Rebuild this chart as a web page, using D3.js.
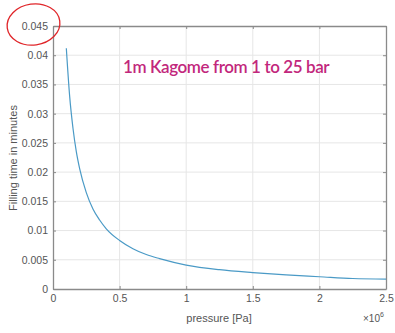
<!DOCTYPE html>
<html><head><meta charset="utf-8">
<script src="https://cdn.jsdelivr.net/npm/d3@7"></script>
<style>body{margin:0;background:#fff;}svg{display:block;}</style>
</head><body>
<script>
// Data
const pressure = [1.0e5, 1.25e5, 1.5e5, 1.75e5, 2.0e5, 2.5e5, 3.0e5, 3.5e5, 4.0e5, 5.0e5, 6.0e5, 7.0e5, 8.0e5, 1.0e6, 1.25e6, 1.5e6, 1.75e6, 2.0e6, 2.25e6, 2.5e6];
const fillTime = [0.0412, 0.0330, 0.0275, 0.0235, 0.0206, 0.0165, 0.0137, 0.0118, 0.0103, 0.0083, 0.0069, 0.0059, 0.0052, 0.0041, 0.0033, 0.0028, 0.0024, 0.0021, 0.0018, 0.0017];
const xTicks = [0, 0.5e6, 1e6, 1.5e6, 2e6, 2.5e6];
const xTickLabels = ["0", "0.5", "1", "1.5", "2", "2.5"];
const yTicks = [0, 0.005, 0.01, 0.015, 0.02, 0.025, 0.03, 0.035, 0.04, 0.045];
const yTickLabels = ["0", "0.005", "0.01", "0.015", "0.02", "0.025", "0.03", "0.035", "0.04", "0.045"];
const titleText = "1m Kagome from 1 to 25 bar";
const xLabel = "pressure [Pa]";
const yLabel = "Filling time in minutes";

const W = 395, H = 333;
const L = 53, R = 386, T = 26, B = 289;
const svg = d3.select("body").append("svg").attr("width", W).attr("height", H);
const x = d3.scaleLinear().domain([0, 2.5e6]).range([L, R]);
const y = d3.scaleLinear().domain([0, 0.045]).range([B, T]);

const gridC = "#e6e6e6", axC = "#8a8a8a", txtC = "#555";
// grid
svg.append("g").selectAll("line").data(xTicks.slice(1, -1)).join("line")
  .attr("x1", d => x(d)).attr("x2", d => x(d)).attr("y1", T).attr("y2", B)
  .attr("stroke", gridC).attr("stroke-width", 1);
svg.append("g").selectAll("line").data(yTicks.slice(1, -1)).join("line")
  .attr("y1", d => y(d)).attr("y2", d => y(d)).attr("x1", L).attr("x2", R)
  .attr("stroke", gridC).attr("stroke-width", 1);

// axes
const font = "Liberation Sans, Arial, sans-serif";
const xAxis = d3.axisBottom(x).tickValues(xTicks).tickFormat((d, i) => xTickLabels[i]).tickSizeInner(-3).tickSizeOuter(0).tickPadding(6);
const yAxis = d3.axisLeft(y).tickValues(yTicks).tickFormat((d, i) => yTickLabels[i]).tickSizeInner(-3).tickSizeOuter(0).tickPadding(5);
const gx = svg.append("g").attr("transform", `translate(0,${B})`).call(xAxis);
const gy = svg.append("g").attr("transform", `translate(${L},0)`).call(yAxis);
const gxt = svg.append("g").attr("transform", `translate(0,${T})`).call(d3.axisTop(x).tickValues(xTicks).tickFormat("").tickSizeInner(-3).tickSizeOuter(0));
const gyr = svg.append("g").attr("transform", `translate(${R},0)`).call(d3.axisRight(y).tickValues(yTicks).tickFormat("").tickSizeInner(-3).tickSizeOuter(0));
[gx, gy, gxt, gyr].forEach(g => {
  g.select(".domain").attr("stroke", axC).attr("stroke-width", 1.3);
  g.selectAll(".tick line").attr("stroke", axC);
  g.selectAll("text").attr("fill", txtC).style("font-family", font).style("font-size", "10.5px");
});

// line
svg.append("path").datum(pressure.map((p, i) => [p, fillTime[i]]))
  .attr("fill", "none").attr("stroke", "#4a9ac6").attr("stroke-width", 1.2)
  .attr("d", d3.line().x(d => x(d[0])).y(d => y(d[1])).curve(d3.curveMonotoneX));

// labels
svg.append("text").attr("x", 219).attr("y", 322).attr("text-anchor", "middle")
  .attr("fill", txtC).style("font-family", font).style("font-size", "11px").text(xLabel);
svg.append("text").attr("transform", "translate(17,158) rotate(-90)").attr("text-anchor", "middle")
  .attr("fill", txtC).style("font-family", font).style("font-size", "11px").text(yLabel);
const mult = svg.append("text").attr("x", 363).attr("y", 322).attr("fill", txtC)
  .style("font-family", font).style("font-size", "10px");
mult.append("tspan").text("×10");
mult.append("tspan").attr("dy", -5).style("font-size", "7px").text("6");

// title
svg.append("text").attr("x", 123).attr("y", 73).attr("fill", "#c2277c")
  .style("font-family", "Lato, Open Sans, sans-serif").style("font-weight", "600").style("font-size", "17px")
  .style("letter-spacing", "-0.4px").text(titleText);

// red circle annotation
svg.append("ellipse").attr("cx", 33.5).attr("cy", 24.5).attr("rx", 26.5).attr("ry", 20.5)
  .attr("transform", "rotate(-8,33.5,24.5)")
  .attr("fill", "none").attr("stroke", "#e0262a").attr("stroke-width", 1.3);
</script>
</body></html>
